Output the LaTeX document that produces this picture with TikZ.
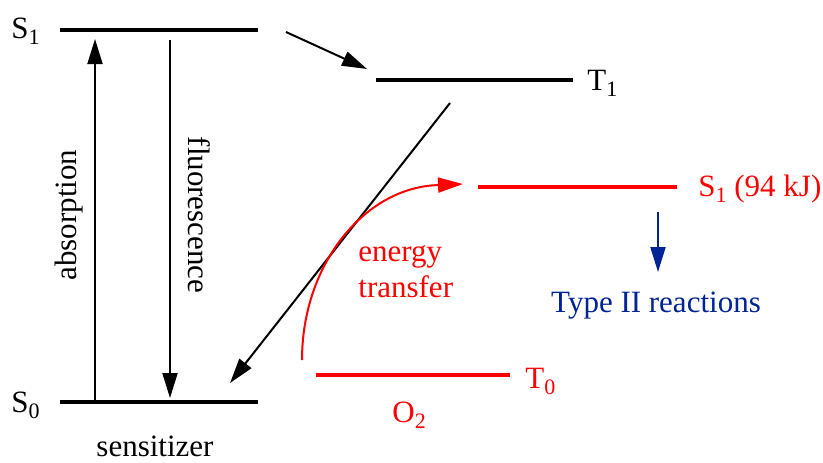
\documentclass[tikz,border=0pt]{standalone}
\usepackage{fontspec}
\setmainfont{Liberation Serif}
\usetikzlibrary{arrows.meta}
\definecolor{rxblue}{RGB}{0,35,150}
\newcommand\subs[1]{\raisebox{-0.45ex}{\fontsize{11}{11}\selectfont #1}}
\begin{document}
\begin{tikzpicture}[x=0.5pt,y=-0.5pt,
    level/.style={line width=2pt},
    trans/.style={line width=1pt,-{Triangle[length=12.5pt,width=7.5pt]}},
    lbl/.style={font=\fontsize{15.5}{18}\selectfont,inner sep=0pt}]
    \useasboundingbox (0,0) rectangle (823,462);

    % sensitizer levels
    \coordinate (s1l) at (60,30);
    \coordinate (s1r) at (258,30);
    \coordinate (t1l) at (376,80);
    \coordinate (t1r) at (573,80);
    \coordinate (s0l) at (60,402);
    \coordinate (s0r) at (258,402);
    \draw[level] (s1l) -- (s1r);
    \draw[level] (t1l) -- (t1r);
    \draw[level] (s0l) -- (s0r);

    % oxygen levels
    \coordinate (o1l) at (478,187);
    \coordinate (o1r) at (677,187);
    \coordinate (o0l) at (316,375);
    \coordinate (o0r) at (510,375);
    \draw[level,red] (o1l) -- (o1r);
    \draw[level,red] (o0l) -- (o0r);

    \node[lbl,anchor=base west] (s1lab) at (11,38) {S\subs{1}};
    \node[lbl,anchor=base west] (s0lab) at (11,412) {S\subs{0}};
    \node[lbl,anchor=base west] (t1lab) at (587,90) {T\subs{1}};
    \node[lbl,anchor=base west,red] (o1lab) at (698,196) {S\subs{1} (94 kJ)};
    \node[lbl,anchor=base west,red] (o0lab) at (525,388) {T\subs{0}};
    \node[lbl,anchor=base west,red] (o2lab) at (392,422) {O\subs{2}};
    \node[lbl,anchor=base] (sens) at (155,456) {sensitizer};
    \node[lbl,rotate=90] (absl) at (69,215) {absorption};
    \node[lbl,rotate=-90] (fluol) at (199,215) {fluorescence};
    \node[lbl,red,align=left,anchor=west] (etlab) at (358,272) {energy\\transfer};
    \node[lbl,rxblue,anchor=base] (type2) at (656,312) {Type II reactions};

    % transitions
    \coordinate (abs0) at (95,402);
    \coordinate (abs1) at (95,39);
    \coordinate (fl1) at (170,40);
    \coordinate (fl0) at (170,398);
    \coordinate (isc0) at (286,32);
    \coordinate (isc1) at (367,69);
    \coordinate (ph0) at (450,103);
    \coordinate (ph1) at (230,383);
    \draw[trans] (abs0) -- (abs1);
    \draw[trans] (fl1) -- (fl0);
    \draw[trans] (isc0) -- (isc1);
    \draw[trans] (ph0) -- (ph1);

    \coordinate (et0) at (302,360);
    \coordinate (et1) at (463,184);
    \draw[trans,red] (et0) .. controls (302,263) and (366,186) .. (440,185) -- (et1);

    \coordinate (rx0) at (658,212);
    \coordinate (rx1) at (658,272);
    \draw[trans,rxblue] (rx0) -- (rx1);
\end{tikzpicture}
\end{document}
